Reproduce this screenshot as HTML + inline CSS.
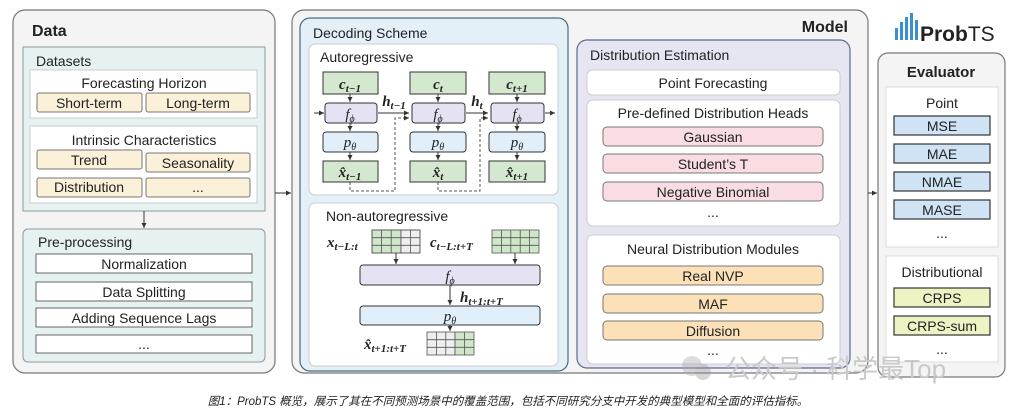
<!DOCTYPE html>
<html><head><meta charset="utf-8"><style>
body{margin:0;background:#fff}
svg{display:block}
text{font-family:"Liberation Sans","Noto Sans CJK SC",sans-serif;fill:#222}
text.m, .m tspan{font-family:"Liberation Serif",serif !important;font-style:italic}
.b{font-weight:bold}
</style></head><body>
<svg width="1015" height="411" viewBox="0 0 1015 411" xmlns="http://www.w3.org/2000/svg">
<defs><marker id="a" markerWidth="6" markerHeight="6" refX="5" refY="3" orient="auto"><path d="M0,0.5 L5,3 L0,5.5z" fill="#333"/></marker></defs>

<!-- DATA -->
<rect x="13" y="10" width="262" height="363" rx="12" fill="#f4f4f4" stroke="#777" stroke-width="1.2"/>
<text x="32" y="36" font-size="16" class="b">Data</text>
<rect x="23" y="47" width="242" height="164" fill="#e6f2f1" stroke="#8a9a9a"/>
<text x="36" y="66" font-size="14">Datasets</text>
<rect x="30" y="70" width="227" height="48" fill="#fff" stroke="#ccc"/>
<text x="144" y="88" font-size="14" text-anchor="middle">Forecasting Horizon</text>
<g fill="#fbf1d8" stroke="#777"><rect x="37" y="93" width="105" height="19" rx="2"/><rect x="146" y="93" width="104" height="19" rx="2"/>
<rect x="30" y="126" width="227" height="77" fill="#fff" stroke="#ccc"/>
<rect x="37" y="150" width="105" height="19" rx="2"/><rect x="146" y="153" width="104" height="19" rx="2"/>
<rect x="37" y="178" width="105" height="19" rx="2"/><rect x="146" y="178" width="104" height="19" rx="2"/></g>
<g font-size="14" text-anchor="middle"><text x="89" y="108">Short-term</text><text x="198" y="108">Long-term</text>
<text x="144" y="145">Intrinsic Characteristics</text>
<text x="89" y="165">Trend</text><text x="198" y="168">Seasonality</text>
<text x="89" y="192">Distribution</text><text x="198" y="192">...</text></g>
<line x1="144" y1="211" x2="144" y2="228" stroke="#333" marker-end="url(#a)"/>
<rect x="23" y="229" width="242" height="133" rx="5" fill="#e6f2f1" stroke="#8a9a9a"/>
<text x="38" y="247" font-size="14">Pre-processing</text>
<g fill="#fff" stroke="#666"><rect x="36" y="254" width="216" height="19"/><rect x="36" y="282" width="216" height="19"/><rect x="36" y="308" width="216" height="19"/><rect x="36" y="335" width="216" height="18"/></g>
<g font-size="14" text-anchor="middle"><text x="144" y="269">Normalization</text><text x="144" y="297">Data Splitting</text><text x="144" y="323">Adding Sequence Lags</text><text x="144" y="349">...</text></g>
<line x1="275" y1="193" x2="291" y2="193" stroke="#333" marker-end="url(#a)"/>

<!-- MODEL -->
<rect x="292" y="10" width="576" height="363" rx="12" fill="#f4f4f4" stroke="#777" stroke-width="1.2"/>
<text x="848" y="32" font-size="16" class="b" text-anchor="end">Model</text>
<rect x="300" y="18" width="268" height="353" rx="10" fill="#e3f0f8" stroke="#4a6a80" stroke-width="1.2"/>
<text x="313" y="38" font-size="14">Decoding Scheme</text>
<rect x="309" y="44" width="249" height="151" rx="6" fill="#fff" stroke="#ccc"/>
<text x="320" y="62" font-size="14">Autoregressive</text>
<g stroke="#333" fill="none">
<line x1="314" y1="113" x2="324" y2="113" marker-end="url(#a)"/>
<line x1="378" y1="113" x2="409" y2="113" marker-end="url(#a)"/>
<line x1="466" y1="113" x2="488" y2="113" marker-end="url(#a)"/>
<line x1="545" y1="113" x2="555" y2="113" marker-end="url(#a)"/>
<path d="M350,182 V191 H395 V118 H409" stroke-dasharray="3,2" stroke="#555" marker-end="url(#a)"/>
<path d="M438,182 V191 H480 V118 H488" stroke-dasharray="3,2" stroke="#555" marker-end="url(#a)"/>
</g>
<g stroke="#333">
<rect x="323" y="72" width="55" height="22" fill="#d4e8cf"/>
<rect x="325" y="103" width="52" height="20" rx="3" fill="#e5e3f3"/>
<rect x="323" y="132" width="55" height="20" rx="3" fill="#e0effa"/>
<rect x="323" y="161" width="55" height="21" fill="#d4e8cf"/>
<rect x="410" y="72" width="56" height="22" fill="#d4e8cf"/>
<rect x="412" y="103" width="53" height="20" rx="3" fill="#e5e3f3"/>
<rect x="410" y="132" width="56" height="20" rx="3" fill="#e0effa"/>
<rect x="410" y="161" width="56" height="21" fill="#d4e8cf"/>
<rect x="489" y="72" width="56" height="22" fill="#d4e8cf"/>
<rect x="491" y="103" width="53" height="20" rx="3" fill="#e5e3f3"/>
<rect x="489" y="132" width="56" height="20" rx="3" fill="#e0effa"/>
<rect x="489" y="161" width="56" height="21" fill="#d4e8cf"/>
<g marker-end="url(#a)"><line x1="350" y1="94" x2="350" y2="102"/><line x1="350" y1="123" x2="350" y2="131"/><line x1="350" y1="152" x2="350" y2="160"/>
<line x1="438" y1="94" x2="438" y2="102"/><line x1="438" y1="123" x2="438" y2="131"/><line x1="438" y1="152" x2="438" y2="160"/>
<line x1="517" y1="94" x2="517" y2="102"/><line x1="517" y1="123" x2="517" y2="131"/><line x1="517" y1="152" x2="517" y2="160"/></g>
</g>
<g font-size="15" text-anchor="middle">
<text class="m" x="350" y="89" font-weight="bold">c<tspan font-size="11" dy="3">t−1</tspan></text>
<text class="m" x="350" y="119">f<tspan font-size="10" dy="3">ϕ</tspan></text>
<text class="m" x="350" y="147">p<tspan font-size="10" dy="3">θ</tspan></text>
<text class="m" x="350" y="177" font-weight="bold">x̂<tspan font-size="11" dy="3">t−1</tspan></text>
<text class="m" x="438" y="89" font-weight="bold">c<tspan font-size="11" dy="3">t</tspan></text>
<text class="m" x="438" y="119">f<tspan font-size="10" dy="3">ϕ</tspan></text>
<text class="m" x="438" y="147">p<tspan font-size="10" dy="3">θ</tspan></text>
<text class="m" x="438" y="177" font-weight="bold">x̂<tspan font-size="11" dy="3">t</tspan></text>
<text class="m" x="517" y="89" font-weight="bold">c<tspan font-size="11" dy="3">t+1</tspan></text>
<text class="m" x="517" y="119">f<tspan font-size="10" dy="3">ϕ</tspan></text>
<text class="m" x="517" y="147">p<tspan font-size="10" dy="3">θ</tspan></text>
<text class="m" x="517" y="177" font-weight="bold">x̂<tspan font-size="11" dy="3">t+1</tspan></text>
<text class="m" x="394" y="106" font-weight="bold">h<tspan font-size="11" dy="3">t−1</tspan></text>
<text class="m" x="477" y="106" font-weight="bold">h<tspan font-size="11" dy="3">t</tspan></text>
</g>
<!-- Non-AR -->
<rect x="309" y="203" width="249" height="163" rx="6" fill="#fff" stroke="#ccc"/>
<text x="326" y="221" font-size="14">Non-autoregressive</text>
<g font-size="15" font-weight="bold">
<text class="m" x="327" y="247">x<tspan font-size="11" dy="3">t−L:t</tspan></text>
<text class="m" x="430" y="247">c<tspan font-size="11" dy="3">t−L:t+T</tspan></text>
<text class="m" x="460" y="302">h<tspan font-size="11" dy="3">t+1:t+T</tspan></text>
<text class="m" x="364" y="349">x̂<tspan font-size="11" dy="3">t+1:t+T</tspan></text>
</g>
<g stroke="#555" stroke-width="0.8">
<rect x="372" y="230" width="29" height="23" fill="#cfe6c9"/><rect x="401" y="230" width="19" height="23" fill="#eee"/>
<path d="M381.6,230V253M391.2,230V253M410.5,230V253M372,237.7H420M372,245.3H420" fill="none"/>
<rect x="372" y="230" width="48" height="23" fill="none"/>
<rect x="492" y="230" width="47" height="23" fill="#cfe6c9"/>
<path d="M501.4,230V253M510.8,230V253M520.2,230V253M529.6,230V253M492,237.7H539M492,245.3H539" fill="none"/>
<rect x="427" y="332" width="28" height="23" fill="#eee"/><rect x="455" y="332" width="19" height="23" fill="#cfe6c9"/>
<path d="M436.4,332V355M445.8,332V355M464.6,332V355M427,339.7H474M427,347.3H474" fill="none"/>
</g>
<g stroke="#333">
<rect x="360" y="265" width="180" height="20" rx="3" fill="#e5e3f3"/>
<rect x="360" y="306" width="180" height="19" rx="3" fill="#e0effa"/>
<g marker-end="url(#a)"><line x1="396" y1="253" x2="396" y2="264"/><line x1="515" y1="253" x2="515" y2="264"/><line x1="450" y1="285" x2="450" y2="305"/><line x1="450" y1="325" x2="450" y2="331"/></g>
</g>
<g font-size="15" text-anchor="middle"><text class="m" x="450" y="281">f<tspan font-size="10" dy="3">ϕ</tspan></text><text class="m" x="450" y="321">p<tspan font-size="10" dy="3">θ</tspan></text></g>

<!-- Distribution Estimation -->
<rect x="577" y="40" width="273" height="328" rx="10" fill="#e6e6f3" stroke="#5a6a8a" stroke-width="1.2"/>
<text x="590" y="60" font-size="14">Distribution Estimation</text>
<rect x="587" y="70" width="253" height="25" rx="5" fill="#fff" stroke="#ccc"/>
<rect x="587" y="100" width="253" height="126" rx="6" fill="#fff" stroke="#ccc"/>
<rect x="587" y="235" width="253" height="129" rx="6" fill="#fff" stroke="#ccc"/>
<g stroke="#777"><g fill="#f9dde3"><rect x="603" y="127" width="220" height="19" rx="4"/><rect x="603" y="154" width="220" height="19" rx="4"/><rect x="603" y="182" width="220" height="19" rx="4"/></g>
<g fill="#fbe0b8"><rect x="603" y="266" width="220" height="19" rx="4"/><rect x="603" y="294" width="220" height="19" rx="4"/><rect x="603" y="321" width="220" height="19" rx="4"/></g></g>
<g font-size="14" text-anchor="middle"><text x="713" y="88">Point Forecasting</text><text x="713" y="118">Pre-defined Distribution Heads</text>
<text x="713" y="142">Gaussian</text><text x="713" y="169">Student’s T</text><text x="713" y="197">Negative Binomial</text><text x="713" y="217">...</text>
<text x="713" y="254">Neural Distribution Modules</text>
<text x="713" y="281">Real NVP</text><text x="713" y="309">MAF</text><text x="713" y="336">Diffusion</text><text x="713" y="355">...</text></g>
<line x1="868" y1="193" x2="877" y2="193" stroke="#333" marker-end="url(#a)"/>

<!-- Evaluator -->
<g fill="#3a8fd0"><rect x="895" y="28" width="3" height="12"/><rect x="900" y="22" width="3" height="18"/><rect x="905" y="17" width="3" height="23"/><rect x="910" y="13" width="3" height="27"/><rect x="915" y="20" width="3" height="20"/></g>
<text x="920" y="41" font-size="21" class="b" fill="#333">Prob<tspan font-weight="normal">TS</tspan></text>
<rect x="878" y="53" width="127" height="324" rx="10" fill="#f4f4f4" stroke="#777" stroke-width="1.2"/>
<text x="941" y="77" font-size="15" class="b" text-anchor="middle">Evaluator</text>
<rect x="886" y="87" width="112" height="160" fill="#fff" stroke="#ddd"/>
<rect x="886" y="256" width="112" height="106" fill="#fff" stroke="#ddd"/>
<g stroke="#333" stroke-width="1.2"><g fill="#cfe3f5"><rect x="894" y="116" width="96" height="19"/><rect x="894" y="144" width="96" height="19"/><rect x="894" y="172" width="96" height="19"/><rect x="894" y="200" width="96" height="19"/></g>
<g fill="#eef3c4"><rect x="894" y="288" width="96" height="19"/><rect x="894" y="316" width="96" height="19"/></g></g>
<g font-size="14" text-anchor="middle"><text x="942" y="108">Point</text><text x="942" y="131">MSE</text><text x="942" y="159">MAE</text><text x="942" y="187">NMAE</text><text x="942" y="215">MASE</text><text x="942" y="238">...</text>
<text x="942" y="277">Distributional</text><text x="942" y="303">CRPS</text><text x="942" y="331">CRPS-sum</text><text x="942" y="354">...</text></g>

<!-- watermark -->
<g opacity="0.4"><circle cx="692" cy="366" r="10" fill="#aaa"/><circle cx="703" cy="372" r="8" fill="#999"/></g>
<text x="725" y="378" font-size="26" style="fill:#c9c9c9">公众号 · 科学最Top</text>

<text x="508" y="405" font-size="11.5" font-style="italic" text-anchor="middle" style="fill:#222">图1：ProbTS 概览，展示了其在不同预测场景中的覆盖范围，包括不同研究分支中开发的典型模型和全面的评估指标。</text>
</svg>
</body></html>
